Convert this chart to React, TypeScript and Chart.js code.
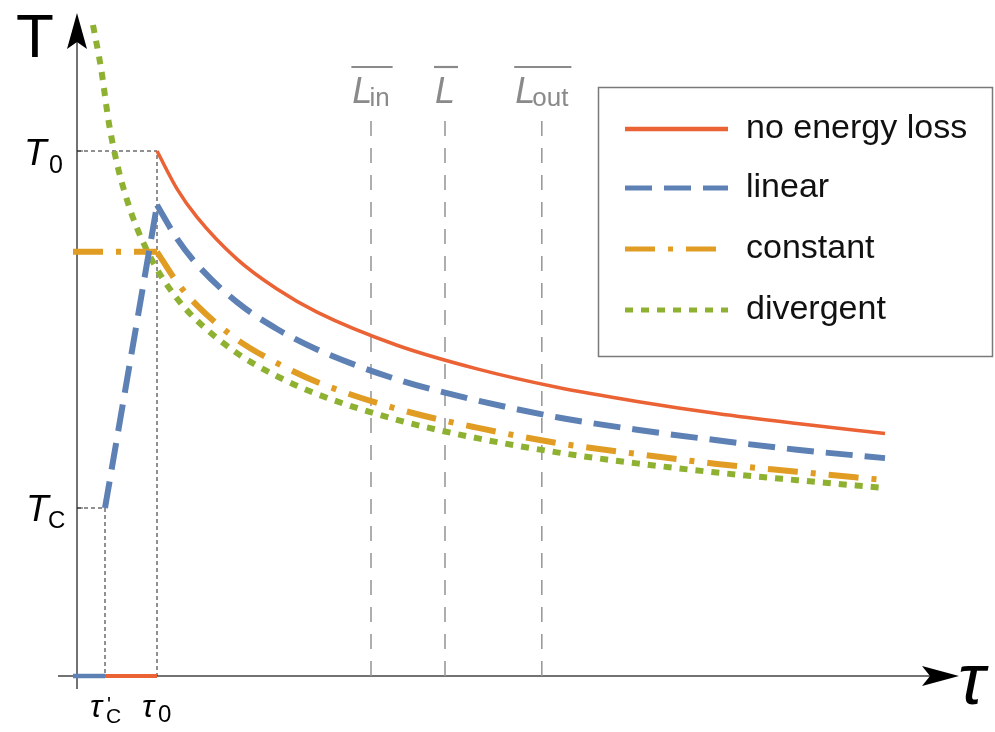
import React, { useEffect, useRef } from "react";
import { Chart, registerables } from "chart.js";
Chart.register(...registerables);

// ---- data ----
const tauDecay = [1, 1.25, 1.5, 2, 2.5, 3, 4, 5, 6, 7, 8, 9, 10.1];
const noLossT = [1, 0.928, 0.874, 0.794, 0.737, 0.693, 0.63, 0.585, 0.55, 0.523, 0.5, 0.481, 0.462];
const linearT = [0.897, 0.833, 0.784, 0.712, 0.661, 0.622, 0.565, 0.525, 0.493, 0.469, 0.449, 0.431, 0.415];
const constantT = [0.808, 0.75, 0.706, 0.641, 0.596, 0.56, 0.509, 0.473, 0.444, 0.423, 0.404, 0.389, 0.373];
const divergentTau = [0.2, 0.3, 0.4, 0.5, 0.6, 0.75, 1, 1.25, 1.5, 2, 2.5, 3, 4, 5, 6, 7, 8, 9, 10.1];
const divergentT = [1.24, 1.158, 1.052, 0.976, 0.919, 0.853, 0.775, 0.719, 0.677, 0.615, 0.571, 0.537, 0.488, 0.453, 0.426, 0.405, 0.3875, 0.373, 0.358];
const linearRampTau = [0.35, 1];
const linearRampT = [0.32, 0.897];
const constantFlatTau = [-0.05, 1];
const constantFlatT = [0.808, 0.808];
const blueAxisTau = [-0.05, 0.35];
const redAxisTau = [0.35, 1];
const T0 = 1;
const TC = 0.32;
const tau0 = 1;
const tauC = 0.35;
const lMarksTau = [3.675, 4.6, 5.81];
const lMarksSub = ["in", "", "out"];
const lMarkTop = 1.06;
const seriesLabels = ["no energy loss", "linear", "constant", "divergent"];

const RED = "#EB6235";
const BLUE = "#5E81B5";
const ORANGE = "#E19C24";
const GREEN = "#8FB131";

const styles = [
  { color: RED, width: 3.5, legendWidth: 4.5, dash: [] as number[] },
  { color: BLUE, width: 6, legendWidth: 5, dash: [27, 12] },
  { color: ORANGE, width: 6, legendWidth: 5, dash: [30, 13, 5, 13] },
  { color: GREEN, width: 6, legendWidth: 5, dash: [8, 8] },
];

const pts = (xs: number[], ys: number[]) => xs.map((x, i) => ({ x, y: ys[i] }));

function lineDs(data: any[], color: string, width: number, dash: number[], smooth: boolean) {
  return {
    data,
    borderColor: color,
    borderWidth: width,
    borderDash: dash,
    borderCapStyle: "butt",
    borderJoinStyle: "miter",
    pointRadius: 0,
    fill: false,
    cubicInterpolationMode: smooth ? "monotone" : "default",
    tension: 0,
    clip: false,
  };
}

const FONT = '"Liberation Sans", Arial, sans-serif';

const decorPlugin = {
  id: "decor",
  beforeDatasetsDraw(chart: any) {
    const { ctx } = chart;
    const xs = chart.scales.x;
    const ys = chart.scales.y;
    const x0 = xs.getPixelForValue(0);
    const y0 = ys.getPixelForValue(0);
    ctx.save();
    ctx.strokeStyle = "#444";
    ctx.lineWidth = 1.5;
    ctx.beginPath();
    ctx.moveTo(x0, y0 + 13);
    ctx.lineTo(x0, 40);
    ctx.moveTo(x0 - 19, y0);
    ctx.lineTo(940, y0);
    ctx.stroke();
    // arrowheads
    ctx.fillStyle = "#000";
    ctx.beginPath();
    ctx.moveTo(x0, 13);
    ctx.lineTo(x0 - 10, 49);
    ctx.lineTo(x0, 42);
    ctx.lineTo(x0 + 10, 49);
    ctx.closePath();
    ctx.fill();
    ctx.beginPath();
    ctx.moveTo(959, y0);
    ctx.lineTo(922, y0 - 10);
    ctx.lineTo(930, y0);
    ctx.lineTo(922, y0 + 10);
    ctx.closePath();
    ctx.fill();
    // short ticks at T0 and TC
    ctx.strokeStyle = "#444";
    ctx.lineWidth = 1;
    ctx.beginPath();
    [T0, TC].forEach((t) => {
      const py = ys.getPixelForValue(t);
      ctx.moveTo(x0, py);
      ctx.lineTo(x0 + 6, py);
    });
    ctx.stroke();
    ctx.restore();
  },
  afterDraw(chart: any) {
    const { ctx } = chart;
    const xs = chart.scales.x;
    const ys = chart.scales.y;
    const x0 = xs.getPixelForValue(0);
    const y0 = ys.getPixelForValue(0);
    ctx.save();
    ctx.fillStyle = "#000";
    ctx.textBaseline = "alphabetic";
    ctx.textAlign = "left";
    // axis titles
    ctx.font = `62px ${FONT}`;
    ctx.fillText("T", 16, 57);
    ctx.font = `italic 72px ${FONT}`;
    ctx.fillText("τ", 958, 704);
    // T0 / TC
    const yT0 = ys.getPixelForValue(T0);
    const yTC = ys.getPixelForValue(TC);
    ctx.font = `italic 37px ${FONT}`;
    ctx.fillText("T", x0 - 53, yT0 + 14);
    ctx.fillText("T", x0 - 51, yTC + 13);
    ctx.font = `25px ${FONT}`;
    ctx.fillText("0", x0 - 28, yT0 + 22);
    ctx.font = `24px ${FONT}`;
    ctx.fillText("C", x0 - 29, yTC + 20);
    // tau labels
    const xC = xs.getPixelForValue(tauC);
    const xT0 = xs.getPixelForValue(tau0);
    ctx.font = `italic 32px ${FONT}`;
    ctx.fillText("τ", xC - 15, y0 + 41);
    ctx.fillText("τ", xT0 - 15, y0 + 41);
    ctx.font = `21px ${FONT}`;
    ctx.fillText("C", xC + 1, y0 + 47);
    ctx.fillText("'", xC + 2, y0 + 35);
    ctx.font = `24px ${FONT}`;
    ctx.fillText("0", xT0 + 1, y0 + 46);
    // L labels
    ctx.fillStyle = "#8a8a8a";
    ctx.strokeStyle = "#8a8a8a";
    ctx.lineWidth = 2.2;
    lMarksTau.forEach((t, i) => {
      const px = xs.getPixelForValue(t);
      ctx.font = `italic 36px ${FONT}`;
      const wL = ctx.measureText("L").width;
      ctx.font = `26px ${FONT}`;
      const wS = lMarksSub[i] ? ctx.measureText(lMarksSub[i]).width : 0;
      const total = wL + wS - (lMarksSub[i] ? 3 : 0);
      const left = px - total / 2;
      ctx.font = `italic 36px ${FONT}`;
      ctx.fillText("L", left, 103);
      if (lMarksSub[i]) {
        ctx.font = `26px ${FONT}`;
        ctx.fillText(lMarksSub[i], left + wL - 3, 106);
      }
      ctx.beginPath();
      ctx.moveTo(left - 1, 67);
      ctx.lineTo(left + total + 3, 67);
      ctx.stroke();
    });
    // legend
    ctx.strokeStyle = "#7a7a7a";
    ctx.lineWidth = 1.5;
    ctx.strokeRect(598.5, 87.5, 394, 269);
    const rows = [129, 188, 249, 310];
    seriesLabels.forEach((lab, i) => {
      const s = styles[i];
      ctx.save();
      ctx.strokeStyle = s.color;
      ctx.lineWidth = s.legendWidth;
      ctx.setLineDash(s.dash);
      ctx.lineCap = "butt";
      ctx.beginPath();
      ctx.moveTo(625, rows[i]);
      ctx.lineTo(728, rows[i]);
      ctx.stroke();
      ctx.restore();
      ctx.fillStyle = "#111";
      ctx.font = `34px ${FONT}`;
      ctx.textBaseline = "middle";
      ctx.fillText(lab, 746, rows[i]);
    });
    ctx.restore();
  },
};

export default function App() {
  const ref = useRef<HTMLCanvasElement | null>(null);
  useEffect(() => {
    if (!ref.current) return;
    const guide = (d: any[]) => lineDs(d, "#222", 1, [4, 3], false);
    const lmark = (t: number) => lineDs([{ x: t, y: 0 }, { x: t, y: lMarkTop }], "#9a9a9a", 1.6, [15, 12], false);
    const datasets: any[] = [
      { label: seriesLabels[0], ...lineDs(pts(tauDecay, noLossT), RED, styles[0].width, styles[0].dash, true) },
      { label: seriesLabels[0] + " axis", ...lineDs(pts(redAxisTau, [0, 0]), RED, 4, [], false) },
      { label: seriesLabels[1], ...lineDs(pts(tauDecay, linearT), BLUE, styles[1].width, styles[1].dash, true) },
      { label: seriesLabels[1] + " ramp", ...lineDs(pts(linearRampTau, linearRampT), BLUE, styles[1].width, styles[1].dash, false) },
      { label: seriesLabels[1] + " axis", ...lineDs(pts(blueAxisTau, [0, 0]), BLUE, 4.5, [], false) },
      { label: seriesLabels[2], ...lineDs(pts(tauDecay, constantT), ORANGE, styles[2].width, styles[2].dash, true) },
      { label: seriesLabels[2] + " flat", ...lineDs(pts(constantFlatTau, constantFlatT), ORANGE, styles[2].width, styles[2].dash, false) },
      { label: seriesLabels[3], ...lineDs(pts(divergentTau, divergentT), GREEN, styles[3].width, styles[3].dash, true) },
      { label: "T0 guide", ...guide([{ x: 0, y: T0 }, { x: tau0, y: T0 }, { x: tau0, y: 0 }]) },
      { label: "TC guide", ...guide([{ x: 0, y: TC }, { x: tauC, y: TC }, { x: tauC, y: 0 }]) },
      ...lMarksTau.map((t, i) => ({ label: "L" + i, ...lmark(t) })),
    ];
    const chart = new Chart(ref.current, {
      type: "line",
      data: { datasets },
      options: {
        animation: false,
        responsive: false,
        devicePixelRatio: 1,
        layout: { padding: { left: 5, right: 38, top: 19.75, bottom: 3.5 } },
        scales: {
          x: { type: "linear", min: -0.9, max: 11, display: false },
          y: { type: "linear", min: -0.1, max: 1.25, display: false },
        },
        plugins: { legend: { display: false }, tooltip: { enabled: false } },
      },
      plugins: [decorPlugin],
    } as any);
    return () => chart.destroy();
  }, []);
  return (
    <div style={{ position: "absolute", left: 0, top: 0, width: 995, height: 732, background: "#fff" }}>
      <canvas ref={ref} width={995} height={732} style={{ width: 995, height: 732, display: "block" }} />
    </div>
  );
}
